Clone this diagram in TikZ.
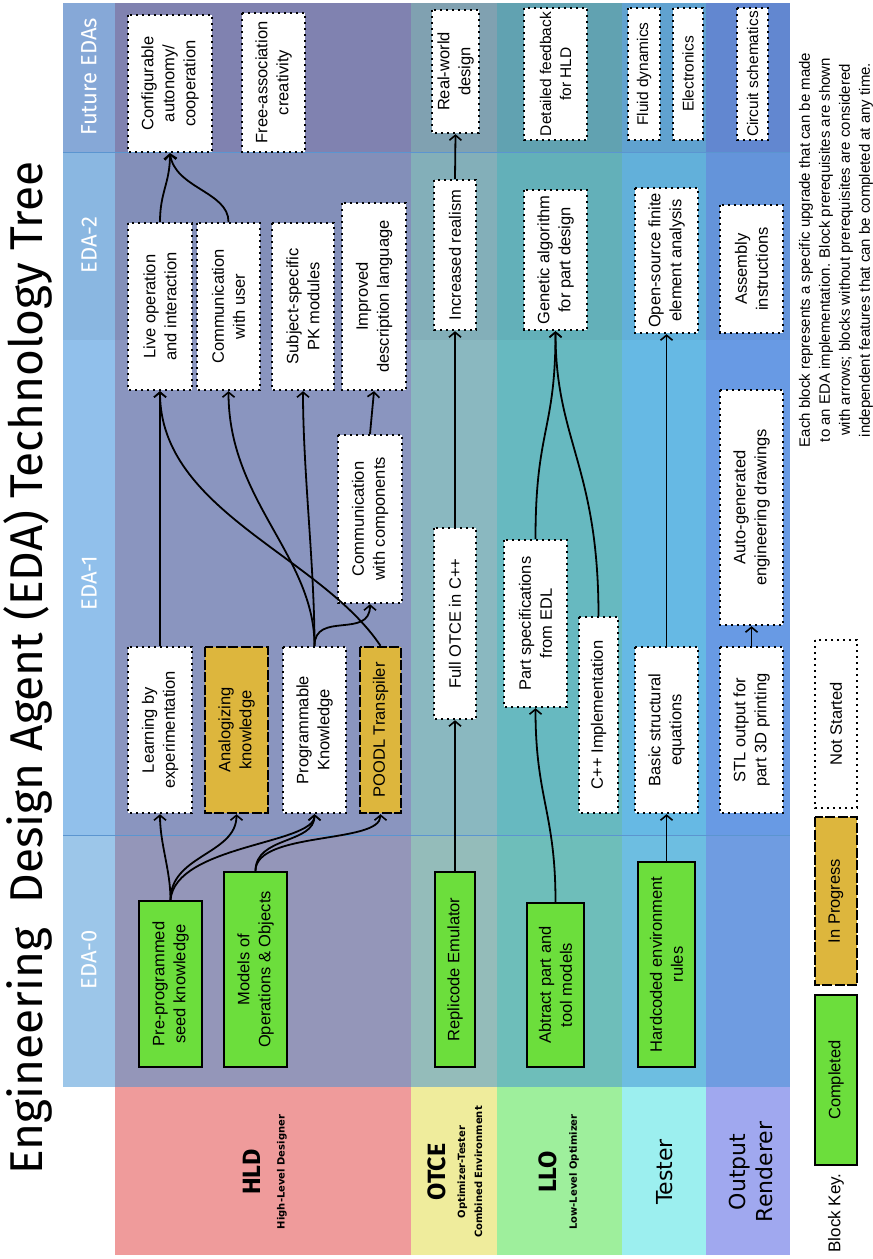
\documentclass[tikz,border=0pt]{standalone}
\usepackage{fontspec}
\setmainfont{Liberation Sans}
\newfontfamily\titlefont{Fira Sans}
\newfontfamily\labelfont{DejaVu Sans}
\newfontfamily\notefont{Liberation Sans}
\usetikzlibrary{arrows.meta}

\definecolor{rowhld}{HTML}{EF9B9B}
\definecolor{rowotce}{HTML}{EFEC9C}
\definecolor{rowllo}{HTML}{9EEF9C}
\definecolor{rowtest}{HTML}{9CEFEF}
\definecolor{rowout}{HTML}{A0A8EF}
\definecolor{bandzero}{RGB}{68,147,213}
\definecolor{bandone}{RGB}{62,145,220}
\definecolor{bandtwo}{RGB}{60,135,205}
\definecolor{bandfut}{RGB}{60,115,190}
\definecolor{donefill}{HTML}{6CDE3C}
\definecolor{wipfill}{HTML}{DDB63D}
\definecolor{bandrule}{HTML}{5B95D0}

\tikzset{
  blockbase/.style={rotate=90, align=center, inner sep=1pt, text=black,
    font=\fontsize{16.5}{21}\selectfont},
  done/.style={blockbase, fill=donefill, draw=black, line width=2.2pt},
  wip/.style={blockbase, fill=wipfill, draw=black, line width=2.4pt,
    dash pattern=on 10pt off 2.5pt},
  todo/.style={blockbase, fill=white, draw=black, line width=2.4pt,
    dash pattern=on 2.4pt off 3.6pt},
  snug/.style={font=\fontsize{15.5}{20}\selectfont},
  dep/.style={draw=black, line width=1.8pt,
    -{Straight Barb[length=5pt,width=12pt,line width=1.6pt]}},
  headlabel/.style={rotate=90, text=white, font=\titlefont\fontsize{22}{24}\selectfont},
  rowbig/.style={rotate=90, font=\titlefont\bfseries\fontsize{25}{27}\selectfont},
  rowsmall/.style={rotate=90, align=center, font=\labelfont\bfseries\fontsize{10}{17}\selectfont},
  rowplain/.style={rotate=90, align=center, font=\labelfont\fontsize{22}{27}\selectfont},
}

% block: name, style, x-left, x-right, y-top, y-bottom, text
\newcommand\blk[7]{%
  \node[#2, minimum width={(#6-#5)*1pt}, minimum height={(#4-#3)*1pt}]
    (#1) at ({(#3+#4)/2},{(#5+#6)/2}) {#7};}

\begin{document}
\begin{tikzpicture}[x=1pt,y=-1pt]
\useasboundingbox (0,0) rectangle (873,1259);

% rows of the tree, one per subsystem
\fill[rowhld]  (115,3) rectangle (411,1255);
\fill[rowotce] (411,3) rectangle (497,1255);
\fill[rowllo]  (497,3) rectangle (622,1255);
\fill[rowtest] (622,3) rectangle (706,1255);
\fill[rowout]  (706,3) rectangle (790,1255);

% generation bands laid over the rows
\fill[bandzero, fill opacity=0.53] (63,835) rectangle (790,1087);
\fill[bandone,  fill opacity=0.57] (63,340) rectangle (790,835);
\fill[bandtwo,  fill opacity=0.60] (63,152) rectangle (790,340);
\fill[bandfut,  fill opacity=0.62] (63,3)   rectangle (790,152);
\draw[bandrule, line width=0.8pt] (63,152) -- (790,152);
\draw[bandrule, line width=0.8pt] (63,835) -- (790,835);

% title and generation headers
\node[rotate=90, font=\titlefont\fontsize{46}{50}\selectfont] (title) at (28,668)
  {Engineering\ \ Design Agent (EDA) Technology Tree};
\node[headlabel] (hfut)  at (89,77)  {Future EDAs};
\node[headlabel] (htwo)  at (89,245) {EDA-2};
\node[headlabel] (hone)  at (89,583) {EDA-1};
\node[headlabel] (hzero) at (89,960) {EDA-0};

% subsystem labels
\node[rowbig]   (lhld)  at (252,1172) {HLD};
\node[rowsmall] (lhlds) at (282,1172) {High-Level Designer};
\node[rowbig]   (lotce) at (437,1172) {OTCE};
\node[rowsmall] (lotces) at (470,1172) {Optimizer-Tester\\Combined Environment};
\node[rowbig]   (lllo)  at (548,1172) {LLO};
\node[rowsmall] (lllos) at (574,1172) {Low-Level Optimizer};
\node[rowplain] (ltest) at (665,1172) {Tester};
\node[rowplain] (lout)  at (751,1172) {Output\\Renderer};

% HLD blocks
\blk{seed}{done}{139}{202}{901}{1067}{Pre-programmed\\seed knowledge}
\blk{models}{done}{224}{287}{872}{1067}{Models of\\Operations \& Objects}
\blk{learn}{todo}{128}{192}{647}{813}{Learning by\\experimentation}
\blk{analog}{wip}{205}{268}{647}{813}{Analogizing\\knowledge}
\blk{prog}{todo}{283}{346}{647}{813}{Programmable\\Knowledge}
\blk{poodl}{wip}{360}{401}{647}{813}{POODL Transpiler}
\blk{commcomp}{todo}{338}{402}{435}{603}{Communication\\with components}
\blk{live}{todo}{128}{192}{223}{390}{Live operation\\and interaction}
\blk{commuser}{todo}{197}{260}{223}{390}{Communication\\with user}
\blk{pk}{todo}{272}{334}{223}{390}{Subject-specific\\PK modules}
\blk{improved}{todo}{342}{406}{203}{390}{Improved\\description language}
\blk{config}{todo}{128}{212}{15}{152}{Configurable\\autonomy/\\cooperation}
\blk{freeassoc}{todo}{242}{305}{13}{152}{Free-association\\creativity}

% OTCE blocks
\blk{replicode}{done}{435}{475}{872}{1067}{Replicode Emulator}
\blk{fullotce}{todo}{434}{476}{528}{719}{Full OTCE in C++}
\blk{realism}{todo}{434}{476}{180}{330}{Increased realism}
\blk{realworld}{todo}{432}{479}{10}{133}{Real-world\\design}

% LLO blocks
\blk{abstract}{done}{527}{584}{903}{1067}{Abtract part and\\tool models}
\blk{partspec}{todo}{504}{567}{540}{707}{Part specifications\\from EDL}
\blk{cpp}{todo}{579}{618}{617}{813}{C++ Implementation}
\blk{genetic}{todo}{524}{587}{190}{330}{Genetic algorithm\\for part design}
\blk{detailed}{todo, snug}{524}{587}{8}{140}{Detailed feedback\\for HLD}

% Tester blocks
\blk{hardcoded}{done}{638}{695}{862}{1067}{Hardcoded environment\\rules}
\blk{basic}{todo}{635}{698}{647}{813}{Basic structural\\equations}
\blk{fea}{todo}{635}{698}{188}{333}{Open-source finite\\element analysis}
\blk{fluid}{todo, snug}{628}{660}{8}{140}{Fluid dynamics}
\blk{electronics}{todo, snug}{673}{703}{8}{140}{Electronics}

% Output Renderer blocks
\blk{stl}{todo}{720}{783}{647}{813}{STL output for\\part 3D printing}
\blk{drawings}{todo}{720}{783}{390}{625}{Auto-generated\\engineering drawings}
\blk{assembly}{todo}{720}{783}{205}{333}{Assembly\\instructions}
\blk{circuit}{todo, snug}{737}{768}{8}{140}{Circuit schematics}

% prerequisites
\draw[dep] (seed.east) .. controls +(0,-30) and +(0,30) .. (learn.west);
\draw[dep] (seed.east) .. controls +(0,-45) and +(0,40) .. (analog.west);
\draw[dep] (seed.east) .. controls +(5,-55) and +(0,30) .. (prog.west);
\draw[dep] (models.east) .. controls +(0,-35) and +(0,30) .. (prog.west);
\draw[dep] (models.east) .. controls +(0,-40) and +(0,30) .. (poodl.west);
\draw[dep] (learn.east) -- (live.west);
\draw[dep] (prog.east) .. controls +(0,-90) and +(0,110) .. (commuser.west);
\draw[dep] (prog.east) .. controls +(0,-80) and +(0,80) .. (pk.west);
\draw[dep] (prog.east) .. controls +(0,-35) and +(0,35) .. (commcomp.west);
\draw[dep] (poodl.east) .. controls +(-60,-90) and +(0,120) .. (live.west);
\draw[dep] (commcomp.east) -- (improved.west);
\draw[dep] (live.east) .. controls +(0,-30) and +(0,30) .. (config.west);
\draw[dep] (commuser.east) .. controls +(0,-30) and +(5,35) .. (config.west);

\draw[dep] (replicode.east) -- (fullotce.west);
\draw[dep] (fullotce.east) -- (realism.west);
\draw[dep] (realism.east) -- (realworld.west);

\draw[dep] (abstract.east) .. controls +(0,-90) and +(0,90) .. (partspec.west);
\draw[dep] (partspec.east) .. controls +(0,-110) and +(0,100) .. (genetic.west);
\draw[dep] (cpp.east) .. controls +(0,-150) and +(0,110) .. (genetic.west);

\draw[dep] (hardcoded.east) -- (basic.west);
\draw[dep] (basic.east) -- (fea.west);
\draw[dep] (stl.east) -- (drawings.west);

% key to block styles
\node[rotate=90, font=\fontsize{17}{20}\selectfont] (keytitle) at (836,1213) {Block Key.};
\blk{keydone}{done}{815}{857}{995}{1165}{Completed}
\blk{keywip}{wip}{815}{857}{817}{985}{In Progress}
\blk{keytodo}{todo}{815}{857}{640}{808}{Not Started}

% explanatory note
\node[rotate=90, align=center, font=\notefont\fontsize{15}{20}\selectfont] (note) at (836,250)
  {Each block represents a specific upgrade that can be made\\
   to an EDA implementation. Block prerequisites are shown\\
   with arrows; blocks without prerequisites are considered\\
   independent features that can be completed at any time.};
\end{tikzpicture}
\end{document}
